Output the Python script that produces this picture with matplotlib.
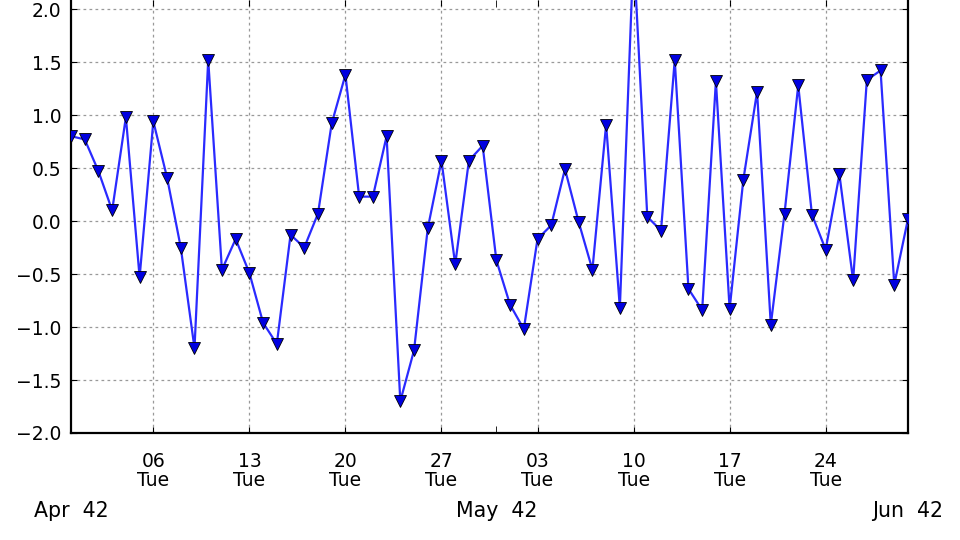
import matplotlib
matplotlib.use("Agg")
import matplotlib.pyplot as plt
from matplotlib.ticker import FixedLocator, FixedFormatter
import numpy as np

# daily series (62 days, index 0 .. 61)
values = [0.80, 0.77, 0.47, 0.10, 0.98, -0.53, 0.94, 0.41, -0.25, -1.20,
          1.52, -0.46, -0.17, -0.49, -0.96, -1.16, -0.13, -0.25, 0.07, 0.92,
          1.38, 0.23, 0.23, 0.80, -1.70, -1.22, -0.07, 0.57, -0.41, 0.57,
          0.71, -0.37, -0.79, -1.02, -0.17, -0.04, 0.49, -0.01, -0.46, 0.91,
          -0.82, 2.55, 0.04, -0.09, 1.52, -0.64, -0.84, 1.32, -0.83, 0.39,
          1.22, -0.98, 0.07, 1.28, 0.06, -0.27, 0.44, -0.56, 1.33, 1.42,
          -0.60, 0.02]

# weekly tick labels (day index, label)
week_idx = [6, 13, 20, 27, 34, 41, 48, 55]
week_labels = ["06\nTue", "13\nTue", "20\nTue", "27\nTue", "03\nTue",
               "10\nTue", "17\nTue", "24\nTue"]
# month labels
month_idx = [0, 31, 61]
month_labels = ["Apr  42", "May  42", "Jun  42"]

y_ticks = [-2.0, -1.5, -1.0, -0.5, 0.0, 0.5, 1.0, 1.5, 2.0]

x = np.arange(len(values))

fig = plt.figure(figsize=(9.6, 5.4), dpi=100)
ax = fig.add_axes([71 / 960, 107 / 540, (908 - 71) / 960, 433 / 540])

ax.plot(x, values, color="#2a2aff", lw=1.6, marker="v", ms=9.2,
        markerfacecolor="#0000e0", markeredgecolor="#000000",
        markeredgewidth=0.6, zorder=3)

ax.set_xlim(0, 61)
ax.set_ylim(-2.0, 2.085)

ax.xaxis.set_major_locator(FixedLocator(week_idx))
ax.xaxis.set_major_formatter(FixedFormatter(week_labels))
ax.xaxis.set_minor_locator(FixedLocator(month_idx))
ax.xaxis.set_minor_formatter(FixedFormatter(month_labels))
ax.set_yticks(y_ticks)
ax.set_yticklabels([f"{v:.1f}".replace("-", "\u2212") for v in y_ticks])

ax.tick_params(axis="both", which="both", direction="in", labelsize=13.5,
               colors="black", top=True, right=True)
ax.tick_params(axis="x", which="major", length=4, pad=14)
ax.tick_params(axis="x", which="minor", length=5, pad=49, labelsize=14.8)
ax.tick_params(axis="y", which="major", length=4, pad=7)
for lbl in ax.xaxis.get_majorticklabels():
    lbl.set_linespacing(1.0)

ax.grid(True, which="major", color="#999999", linestyle=(0, (2.2, 2.6)),
        lw=0.9)
ax.set_axisbelow(True)

for side in ["left", "right", "bottom"]:
    ax.spines[side].set_linewidth(1.6)
    ax.spines[side].set_color("black")
ax.spines["top"].set_visible(False)

fig.savefig("out.png", dpi=100, facecolor="white")
